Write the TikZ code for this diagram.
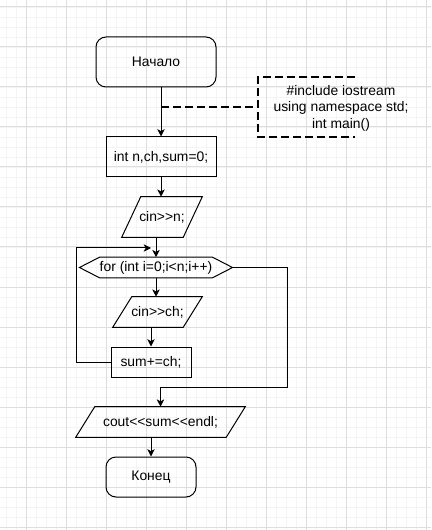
\documentclass[tikz,border=0pt]{standalone}
\usepackage{fontspec}
\setmainfont{Liberation Sans}[Ligatures=TeXOff]
\usetikzlibrary{arrows.meta}

\definecolor{gridmajor}{HTML}{DEDEDE}
\definecolor{gridminor}{HTML}{F4F4F4}

\tikzset{
	every node/.style={font=\fontsize{10.4}{12.4}\selectfont},
	line/.style={line width=0.75pt},
	block/.style={draw, line, inner sep=0pt, minimum width=82.5pt, minimum height=30pt},
	term/.style={block, rounded corners=7.5pt},
	body/.style={inner sep=0pt, minimum height=22.5pt},
	arr/.style={line, -{Stealth[length=5.5pt,width=5.5pt,inset=1.5pt]}},
	notedash/.style={line width=1.5pt, dash pattern=on 6pt off 3pt},
}

\begin{document}
\begin{tikzpicture}[x=0.75pt,y=-0.75pt]
	\useasboundingbox (0,0) rectangle (431,530);
	
	% background grid
	\foreach \gx in {6,16,...,426} \draw[gridminor,line width=0.6pt] (\gx,0) -- (\gx,530);
	\foreach \gy in {7,17,...,527} \draw[gridminor,line width=0.6pt] (0,\gy) -- (431,\gy);
	\foreach \gx in {26,66,...,426} \draw[gridmajor,line width=0.75pt] (\gx,0) -- (\gx,530);
	\foreach \gy in {7,47,...,527} \draw[gridmajor,line width=0.75pt] (0,\gy) -- (431,\gy);
	
	% blocks
	\node[term, minimum width=90pt, minimum height=37.5pt] (start) at (156,62) {Начало};
	\node[block] (init) at (161,157) {int n,ch,sum=0;};
	\node[body, minimum width=45.75pt, minimum height=30pt] (readn) at (162,217) {cin>>n;};
	\node[body, minimum width=75pt, minimum height=15pt] (loop) at (156,267.5) {for (int i=0;i<n;i++)};
	\node[body, minimum width=52.5pt] (readch) at (157.5,312) {cin>>ch;};
	\node[block, minimum width=60pt, minimum height=22.5pt] (sum) at (151,362) {sum+=ch;};
	\node[body, minimum width=112.5pt] (out) at (160.5,422) {cout<<sum<<endl;};
	\node[term, minimum width=67.5pt] (end) at (151,477) {Конец};
	
	% comment
	\node[inner sep=0pt, minimum width=124.5pt, minimum height=45pt, align=center] (note) at (341,108)
		{\#include iostream\\using namespace std;\\int main()};
	
	% input/output shapes
	\foreach \n in {readn,readch,out}
		\draw[line] ([xshift=7.125pt]\n.north west) -- ([xshift=7.125pt]\n.north east)
			-- ([xshift=-7.125pt]\n.south east) -- ([xshift=-7.125pt]\n.south west) -- cycle;
	
	% loop header
	\coordinate (loopR) at ([xshift=15pt]loop.east);
	\coordinate (loopL) at ([xshift=-15pt]loop.west);
	\draw[line] (loop.north west) -- (loop.north east) -- (loopR) -- (loop.south east)
		-- (loop.south west) -- (loopL) -- cycle;
	
	% comment bracket
	\coordinate (noteT) at (355,77);
	\coordinate (noteB) at (355,137);
	\draw[notedash] (noteT) -- (258,77) -- (258,137) -- (noteB);
	\coordinate (tap) at (161,107);
	\draw[notedash] (tap) -- (258,107);
	
	% connectors
	\draw[arr] (start.south -| init.north) -- (init.north);
	\draw[arr] (init.south) -- (init.south |- readn.north);
	\draw[arr] (readn.south -| loop.north) -- (loop.north);
	\draw[arr] (loop.south) -- (loop.south |- readch.north);
	\draw[arr] (readch.south -| sum.north) -- (sum.north);
	
	\coordinate (loopin) at (151,248);
	\draw[arr] (sum.west) -- (76,362) |- (loopin);
	
	\coordinate (exitC) at (287,387);
	\draw[arr] (loopR) -| (exitC) -| (out.north);
	\draw[arr] (out.south -| end.north) -- (end.north);
\end{tikzpicture}
\end{document}
